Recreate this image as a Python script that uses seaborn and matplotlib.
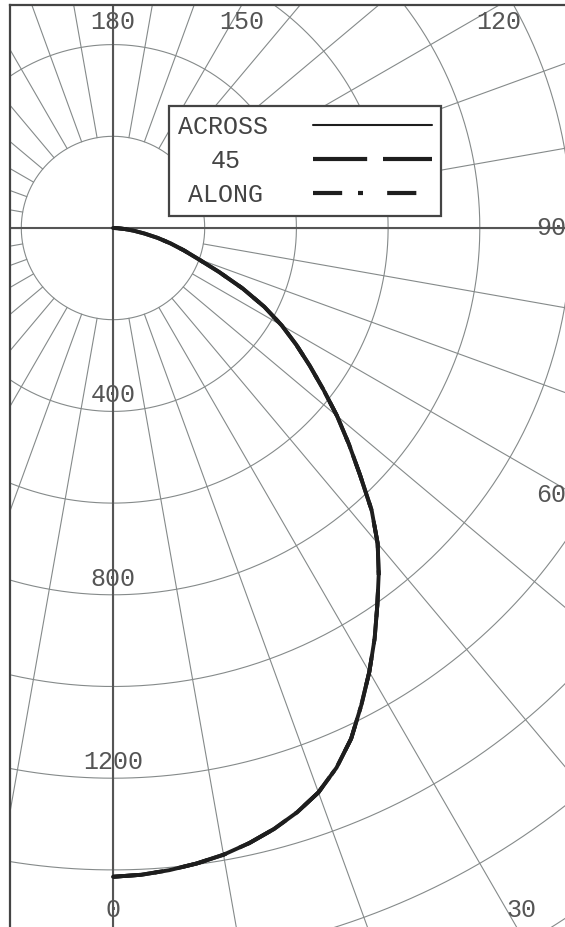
import numpy as np
import pandas as pd
import matplotlib
matplotlib.use("Agg")
import matplotlib.pyplot as plt
from matplotlib.lines import Line2D
import seaborn as sns

angles = [0, 2.5, 5, 7.5, 10, 12.5, 15, 17.5, 20, 22.5, 25, 27.5, 30, 32.5, 35,
          37.5, 40, 42.5, 45, 47.5, 50, 52.5, 55, 57.5, 60, 62.5, 65, 67.5, 70,
          72.5, 75, 77.5, 80, 82.5, 85, 87.5, 90]
across = [1415, 1412, 1406, 1398, 1388, 1374, 1357, 1336, 1310, 1274, 1229, 1173,
          1118, 1062, 1005, 952, 898, 835, 762, 698, 638, 578, 524, 474, 425, 372,
          312, 250, 198, 162, 130, 100, 70, 46, 26, 10, 0]
# the 45 and ALONG planes lie right on top of ACROSS in the picture
deg45 = list(across)
along = list(across)
planes = ["ACROSS", "45", "ALONG"]

ring_values = [200, 400, 600, 800, 1000, 1200, 1400, 1600, 1800, 2000, 2200]
ring_labels = [400, 800, 1200]
angle_labels = [0, 30, 60, 90, 120, 150, 180]

# layout in pixels
W, H = 565, 927
cx, cy = 113, 228          # pole
scale = 0.4585             # px per cd
left, top, right, bottom = 10, 5, 575, 935   # frame (right/bottom run off the picture)

grid_c = "#858a8a"
axis_c = "#555555"
curve_c = "#1e1e1e"
text_c = "#555555"
fs = 18

sns.set_style("white")
plt.rcParams["font.family"] = ["Liberation Mono", "DejaVu Sans Mono"]

def to_data(px, py):
    return (px - cx) / scale, (cy - py) / scale

fig = plt.figure(figsize=(W / 100, H / 100), dpi=100)
ax = fig.add_axes([left / W, 1 - bottom / H, (right - left) / W, (bottom - top) / H])
ax.set_xlim((left - cx) / scale, (right - cx) / scale)
ax.set_ylim((cy - bottom) / scale, (cy - top) / scale)
ax.set_xticks([])
ax.set_yticks([])
for side in ["left", "top", "right", "bottom"]:
    ax.spines[side].set_color("#444444")
    ax.spines[side].set_linewidth(1.6)

# polar grid
t = np.linspace(0, 2 * np.pi, 721)
for r in ring_values:
    ax.plot(r * np.cos(t), r * np.sin(t), color=grid_c, lw=0.8, zorder=1)
for a in range(0, 360, 10):
    th = np.radians(a)
    ax.plot([200 * np.sin(th), 3000 * np.sin(th)],
            [-200 * np.cos(th), -3000 * np.cos(th)],
            color=grid_c, lw=0.8, zorder=1)
ax.axhline(0, color=axis_c, lw=1.5, zorder=2)
ax.axvline(0, color=axis_c, lw=1.5, zorder=2)

# curves
th = np.radians(angles)
rows = []
for name, vals in zip(planes, [across, deg45, along]):
    v = np.array(vals)
    rows.append(pd.DataFrame({"x": v * np.sin(th), "y": -v * np.cos(th), "plane": name}))
df = pd.concat(rows, ignore_index=True)

dash_map = {"ACROSS": "", "45": (13, 3.8), "ALONG": (7, 3.8, 1.2, 5.8)}
sns.lineplot(data=df, x="x", y="y", style="plane", style_order=planes,
             dashes=dash_map, sort=False, estimator=None, color=curve_c,
             linewidth=2.8, legend=False, ax=ax, zorder=4,
             solid_joinstyle="round")
ax.set_xlabel("")
ax.set_ylabel("")

# ring labels
for v in ring_labels:
    ax.annotate(str(v), xy=(0, -v), xytext=(0, 6.5), textcoords="offset points",
                ha="center", va="baseline", fontsize=fs, color=text_c, zorder=5)

# angle labels where each ray leaves the frame
for a in angle_labels:
    th_a = np.radians(a)
    dx, dy = np.sin(th_a), np.cos(th_a)
    cands = []
    if dx > 1e-9:
        cands.append(((right - cx) / dx, "r"))
    if dy > 1e-9:
        cands.append(((bottom - cy) / dy, "b"))
    if dy < -1e-9:
        cands.append(((top - cy) / dy, "t"))
    tt, edge = min(cands)
    px, py = cx + tt * dx, cy + tt * dy
    if edge == "r":
        px -= 24
    elif edge == "b":
        py -= 25
    else:
        py += 17
    x, y = to_data(px, py)
    ax.text(x, y, str(a), ha="center", va="center", fontsize=fs, color=text_c, zorder=5)

# legend: labels on the left, line samples on the right
handles = [Line2D([], [], color=curve_c, lw=1.5),
           Line2D([], [], color=curve_c, lw=3, dashes=dash_map["45"]),
           Line2D([], [], color=curve_c, lw=3, dashes=dash_map["ALONG"])]
leg = ax.legend(handles, planes, loc="upper left",
                bbox_to_anchor=(169 / W, 1 - 106 / H), bbox_transform=fig.transFigure,
                markerfirst=False, frameon=True, fancybox=False, framealpha=1,
                edgecolor="#444444", facecolor="white", fontsize=fs,
                handlelength=4.76, handletextpad=1.82, labelspacing=0.4,
                borderpad=0.35, borderaxespad=0)
leg.get_frame().set_linewidth(1.6)
# centre the shorter labels under ACROSS (items are right aligned)
char_w = 0.6 * fs * 100 / 72
for txt, shift in zip(leg.get_texts(), [0, -1.8, -0.35]):
    txt.set_color("#444444")
    txt.set_position((shift * char_w, 0))
leg.set_zorder(10)

fig.savefig("out.png", dpi=100, facecolor="white")
